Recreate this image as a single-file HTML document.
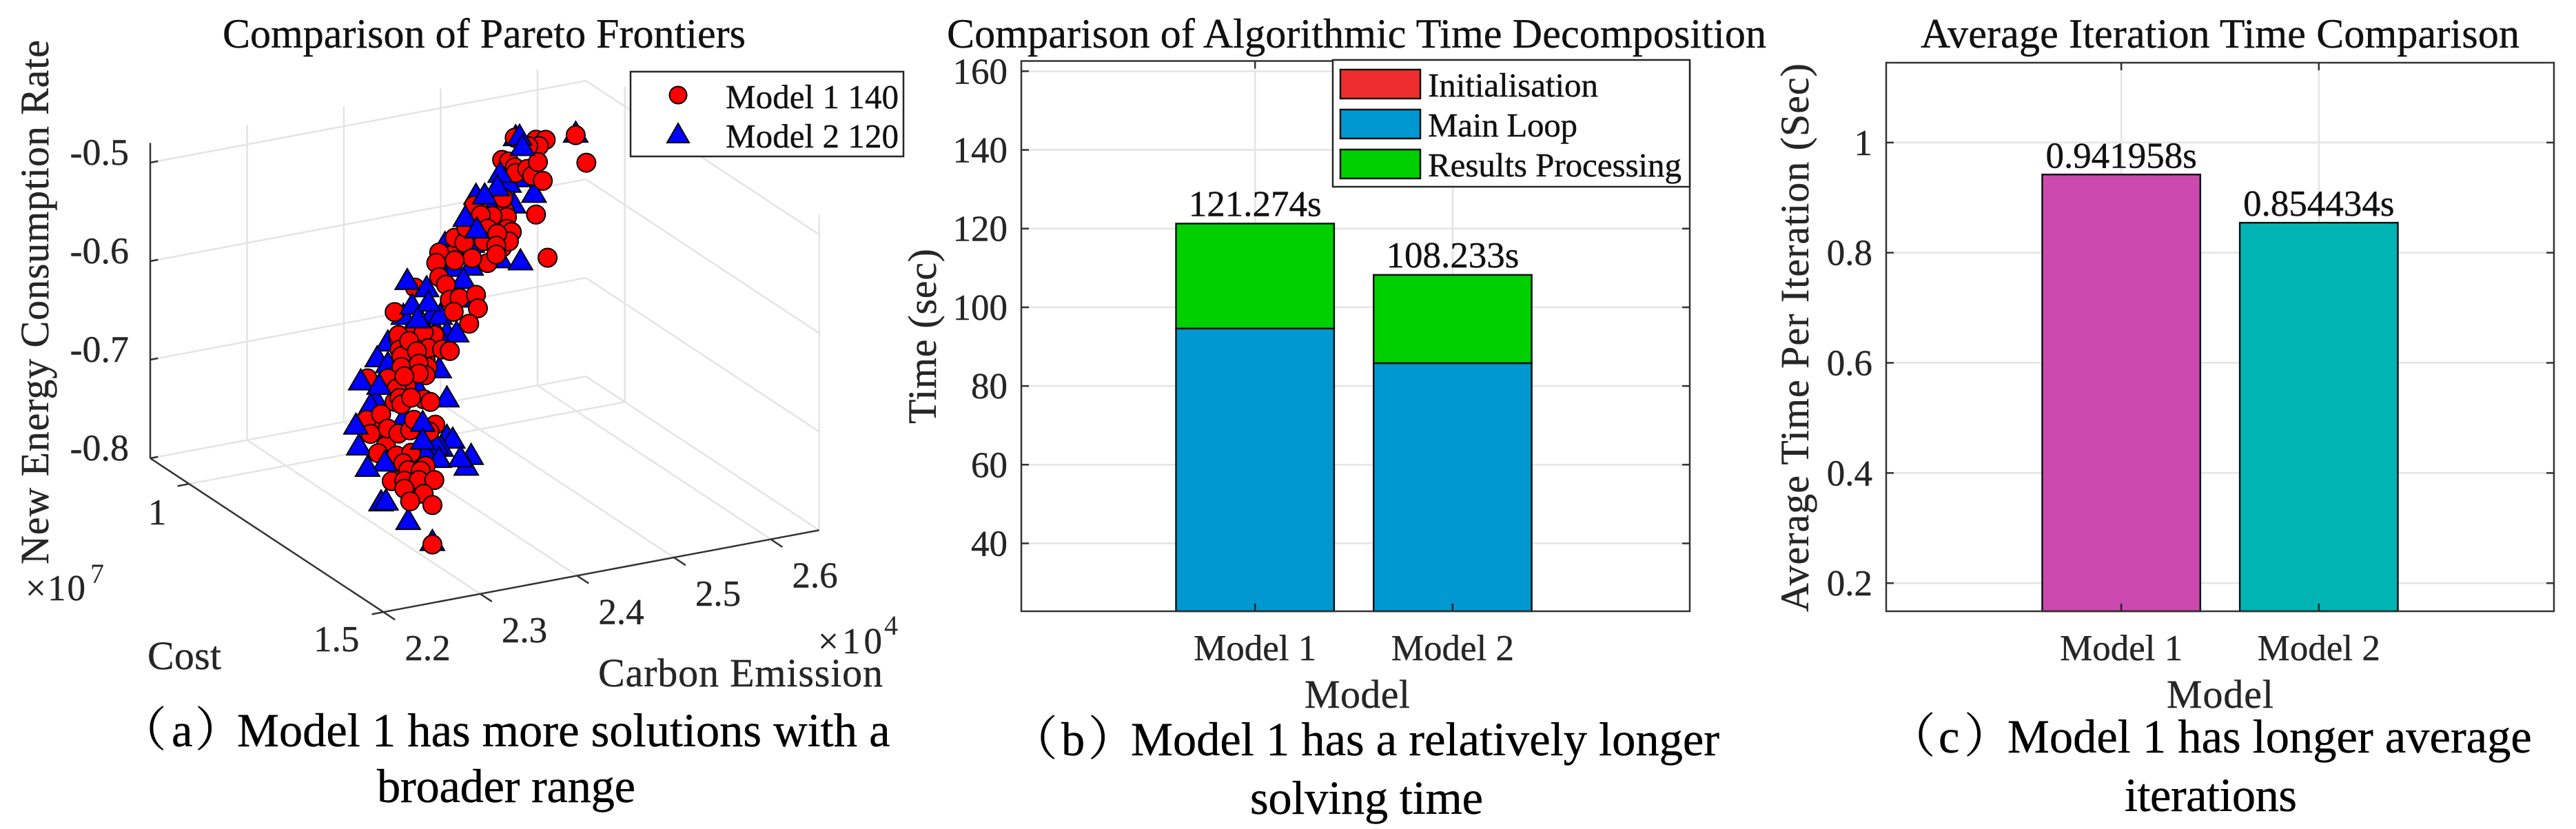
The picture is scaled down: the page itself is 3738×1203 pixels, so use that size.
<!DOCTYPE html>
<html lang="en">
<head>
<meta charset="utf-8">
<title>Model comparison figure</title>
<style>
  html,body{margin:0;padding:0;background:#fff;}
  svg{display:block;}
  text{font-family:"Liberation Serif","Noto Serif CJK SC",serif;stroke-width:.4;}
  .title{font-size:60px;fill:#111;stroke:#111;}
  .label{font-size:58px;fill:#262626;stroke:#262626;}
  .tick{font-size:53px;fill:#262626;stroke:#262626;}
  .legend{font-size:49px;fill:#111;stroke:#111;}
  .value{font-size:53px;fill:#111;stroke:#111;}
  .caption{font-size:68.5px;fill:#000;stroke:#000;}
</style>
</head>
<body>
<svg id="fig" xmlns="http://www.w3.org/2000/svg" width="3738" height="1203" viewBox="0 0 3738 1203">
  <rect x="0" y="0" width="3738" height="1203" fill="#fff"/>

  <g id="panelA">
    <g id="a-grid"></g>
    <g id="a-axes"></g>
    <g id="a-marks"></g>
    <g id="a-ticks"></g>
    <text class="title" x="323" y="69" textLength="759">Comparison of Pareto Frontiers</text>
    <text class="label" x="70" y="819" textLength="761" transform="rotate(-90 70 819)">New Energy Consumption Rate</text>
    <text class="label" x="214" y="971" textLength="107">Cost</text>
    <text class="label" x="868" y="996" textLength="413">Carbon Emission</text>
    <text class="tick" x="37" y="871" textLength="87">×10</text>
    <text style="font-size:40px;fill:#262626" x="131" y="846">7</text>
    <text class="tick" x="1187" y="948" textLength="93">×10</text>
    <text style="font-size:40px;fill:#262626" x="1283" y="921">4</text>
    <g>
      <rect x="915" y="104" width="396" height="123" fill="#fff" stroke="#262626" stroke-width="2.5"/>
      <circle cx="984" cy="138" r="12.5" fill="#f00" stroke="#000" stroke-width="2"/>
      <polygon points="984,179 1000,207 968,207" fill="#00f" stroke="#000" stroke-width="2"/>
      <text class="legend" x="1053" y="157" textLength="251">Model 1 140</text>
      <text class="legend" x="1053" y="214" textLength="251">Model 2 120</text>
    </g>
    <text class="caption" y="1083"><tspan x="173">（</tspan><tspan x="249">a</tspan><tspan x="283">）</tspan><tspan x="344">Model 1 has more solutions with a</tspan></text>
    <text class="caption" x="547" y="1164" textLength="375">broader range</text>
  </g>

  <g id="panelB">
    <g id="b-plot"></g>
    <text class="title" x="1374" y="69" textLength="1189">Comparison of Algorithmic Time Decomposition</text>
    <text class="label" x="1358" y="615" textLength="254" transform="rotate(-90 1358 615)">Time (sec)</text>
    <text class="label" x="1893" y="1027" textLength="153">Model</text>
    <g>
      <rect x="1934" y="87" width="518" height="184" fill="#fff" stroke="#262626" stroke-width="2.5"/>
      <rect x="1945" y="101" width="116" height="42" fill="#ee2e2e" stroke="#111" stroke-width="2.5"/>
      <rect x="1945" y="159" width="116" height="42" fill="#0098d0" stroke="#111" stroke-width="2.5"/>
      <rect x="1945" y="217" width="116" height="42" fill="#00d000" stroke="#111" stroke-width="2.5"/>
      <text class="legend" x="2072" y="140" textLength="247">Initialisation</text>
      <text class="legend" x="2072" y="198" textLength="217">Main Loop</text>
      <text class="legend" x="2072" y="256" textLength="368">Results Processing</text>
    </g>
    <text class="caption" y="1096"><tspan x="1466">（</tspan><tspan x="1540">b</tspan><tspan x="1579">）</tspan><tspan x="1641">Model 1 has a relatively longer</tspan></text>
    <text class="caption" x="1814" y="1181" textLength="338">solving time</text>
  </g>

  <g id="panelC">
    <g id="c-plot"></g>
    <text class="title" x="2787" y="69" textLength="869">Average Iteration Time Comparison</text>
    <text class="label" x="2624" y="888" textLength="796" transform="rotate(-90 2624 888)">Average Time Per Iteration (Sec)</text>
    <text class="label" x="3144" y="1027" textLength="155">Model</text>
    <text class="caption" y="1092"><tspan x="2740">（</tspan><tspan x="2813">c</tspan><tspan x="2850">）</tspan><tspan x="2913">Model 1 has longer average</tspan></text>
    <text class="caption" x="3083" y="1177" textLength="250">iterations</text>
  </g>
</svg>

<script>
/* ---------- Panel (a): data (cost depth is not
   recoverable from one projection, so it is a nominal front-to-back value) ---------- */
const carbonTicks = [2.2, 2.3, 2.4, 2.5, 2.6];
const costTicks = [1, 1.5];
const costTickLabels = ['1', '1.5'];
const rateTicks = [-0.8, -0.7, -0.6, -0.5];
const rateTickLabels = ['-0.8', '-0.7', '-0.6', '-0.5'];

const model2Carbon = [
  2.375,2.357,2.369,
  2.519,2.457,2.464,2.450,2.476,2.455,2.433,2.416,2.384,2.394,
  2.412,2.389,2.441,2.462,2.394,2.411,2.403,2.414,2.341,2.371,
  2.379,2.386,2.396,2.380,2.325,2.314,2.325,2.378,2.352,2.386,
  2.312,2.307,2.341,2.295,2.386,2.392,2.380,2.375,2.364,2.411,
  2.406,2.378,2.318,2.323,2.346,2.371,
  2.457,2.460,2.437,2.434,2.421,2.401,2.413,2.361,2.341,2.346,
  2.363,2.352,2.293,2.312,2.288,2.357,2.357,2.318,2.300,2.396
];
const model2Rate = [
  -0.627,-0.684,-0.742,
  -0.453,-0.445,-0.488,-0.491,-0.506,-0.513,-0.509,-0.497,-0.540,-0.544,
  -0.545,-0.558,-0.566,-0.572,-0.566,-0.568,-0.580,-0.601,-0.605,-0.609,
  -0.612,-0.631,-0.633,-0.637,-0.629,-0.643,-0.651,-0.666,-0.655,-0.697,
  -0.684,-0.690,-0.710,-0.729,-0.736,-0.740,-0.746,-0.743,-0.749,-0.760,
  -0.770,-0.757,-0.790,-0.790,-0.814,-0.840,
  -0.442,-0.453,-0.476,-0.489,-0.495,-0.514,-0.528,-0.578,-0.567,-0.593,
  -0.593,-0.608,-0.660,-0.668,-0.704,-0.714,-0.732,-0.747,-0.749,-0.757
];
const model2Cost = [
  1.2,1.2,1.2,
  1.2,1.2,1.2,1.2,1.2,1.2,1.2,1.2,1.2,1.2,
  1.2,1.2,1.2,1.2,1.2,1.2,1.2,1.2,1.2,1.2,
  1.2,1.2,1.2,1.2,1.2,1.2,1.2,1.2,1.2,1.2,
  1.2,1.2,1.2,1.2,1.2,1.2,1.2,1.2,1.2,1.2,
  1.2,1.2,1.2,1.2,1.2,1.2,
  1.21,1.21,1.21,1.21,1.21,1.21,1.21,1.21,1.21,1.21,
  1.21,1.21,1.21,1.21,1.21,1.21,1.21,1.21,1.21,1.21
];

const model1Carbon = [
  2.352,2.373,2.346,2.364,2.349,2.366,2.344,2.332,2.314,2.361,
  2.323,2.337,2.352,2.357,2.435,2.443,2.446,2.392,
  2.519,2.530,2.478,2.490,2.456,2.478,2.488,2.481,2.470,2.443,
  2.450,2.456,2.457,2.469,2.474,2.480,2.485,2.418,2.414,2.444,
  2.448,2.433,2.421,2.428,2.448,2.453,2.450,2.424,2.438,2.437,
  2.394,2.404,2.406,2.378,2.375,2.378,2.385,2.389,2.399,2.416,
  2.418,2.353,2.332,2.428,2.412,2.394,2.437,2.393,2.409,2.336,
  2.336,2.362,2.367,2.337,2.339,2.347,2.355,2.381,2.389,2.339,
  2.357,2.364,2.357,2.304,2.325,2.334,2.342,2.337,2.339,2.362,
  2.369,2.349,2.303,2.318,2.325,2.336,2.348,2.307,2.315,2.334,
  2.349,2.374,2.368,2.352,2.341,2.346,2.364,2.359,2.329,2.342,
  2.357,2.373,2.342,2.362,2.348,2.371,2.371
];
const model1Rate = [
  -0.620,-0.629,-0.647,-0.652,-0.660,-0.660,-0.675,-0.689,-0.713,-0.725,
  -0.732,-0.759,-0.767,-0.787,-0.529,-0.553,-0.517,-0.551,
  -0.453,-0.483,-0.526,-0.572,-0.444,-0.450,-0.452,-0.457,-0.455,-0.464,
  -0.467,-0.474,-0.480,-0.478,-0.486,-0.473,-0.493,-0.507,-0.505,-0.503,
  -0.523,-0.519,-0.516,-0.531,-0.535,-0.539,-0.548,-0.543,-0.538,-0.550,
  -0.534,-0.541,-0.526,-0.546,-0.556,-0.571,-0.580,-0.596,-0.596,-0.596,
  -0.610,-0.577,-0.598,-0.566,-0.558,-0.557,-0.559,-0.609,-0.624,-0.626,
  -0.622,-0.624,-0.641,-0.637,-0.644,-0.630,-0.642,-0.645,-0.648,-0.655,
  -0.655,-0.668,-0.665,-0.660,-0.664,-0.676,-0.665,-0.686,-0.693,-0.692,
  -0.696,-0.688,-0.702,-0.699,-0.715,-0.722,-0.721,-0.717,-0.738,-0.744,
  -0.744,-0.720,-0.726,-0.711,-0.753,-0.761,-0.760,-0.764,-0.769,-0.771,
  -0.773,-0.776,-0.779,-0.788,-0.793,-0.801,-0.841
];
const model1Cost = [
  1.2,1.2,1.2,1.2,1.2,1.2,1.2,1.2,1.2,1.2,
  1.2,1.2,1.2,1.2,1.2,1.2,1.2,1.2,
  1.2,1.2,1.2,1.2,1.2,1.2,1.2,1.2,1.2,1.2,
  1.2,1.2,1.2,1.2,1.2,1.2,1.2,1.2,1.2,1.2,
  1.2,1.2,1.2,1.2,1.2,1.2,1.2,1.2,1.2,1.2,
  1.2,1.2,1.2,1.2,1.2,1.2,1.2,1.2,1.2,1.2,
  1.2,1.2,1.2,1.2,1.2,1.2,1.2,1.2,1.2,1.2,
  1.2,1.2,1.2,1.2,1.2,1.2,1.2,1.2,1.2,1.2,
  1.2,1.2,1.2,1.2,1.2,1.2,1.2,1.2,1.2,1.2,
  1.2,1.2,1.2,1.2,1.2,1.2,1.2,1.2,1.2,1.2,
  1.2,1.2,1.2,1.2,1.2,1.2,1.2,1.2,1.2,1.2,
  1.2,1.2,1.2,1.2,1.2,1.2,1.2
];

/* ---------- Panel (b) ---------- */
const timeCategories = ['Model 1', 'Model 2'];
const initTime = [0.3, 0.4];
const mainLoopTime = [94.3, 85.4];
const resultsTime = [26.674, 22.433];
const timeTotals = ['121.274s', '108.233s'];
const timeTicks = [40, 60, 80, 100, 120, 140, 160];

/* ---------- Panel (c) ---------- */
const iterCategories = ['Model 1', 'Model 2'];
const iterValues = [0.941958, 0.854434];
const iterLabels = ['0.941958s', '0.854434s'];
const iterTicks = [0.2, 0.4, 0.6, 0.8, 1];
const iterTickLabels = ['0.2', '0.4', '0.6', '0.8', '1'];

const NS = 'http://www.w3.org/2000/svg';
const GRID = '#e4e4e4', AXIS = '#333333';

function make(parent, tag, attrs, text) {
  const node = document.createElementNS(NS, tag);
  for (const k in attrs) node.setAttribute(k, attrs[k]);
  if (text !== undefined) node.textContent = text;
  parent.appendChild(node);
  return node;
}

/* ----- 3D axis functions ----- */
const carbonMin = 2.2, carbonMax = 2.65, costMin = 0.9, costMax = 1.5, rateMin = -0.8, rateMax = -0.48;
function projX(carbon, cost) { return 218 + (carbon - carbonMin) * 1405 + (cost - costMin) * 564; }
function projY(carbon, cost, rate) { return 665 - (carbon - carbonMin) * 264 + (cost - costMin) * 372 - (rate - rateMin) * 1430; }

function line3d(parent, a, b, color, width) {
  return make(parent, 'line', {
    x1: projX(a[0], a[1]), y1: projY(a[0], a[1], a[2]),
    x2: projX(b[0], b[1]), y2: projY(b[0], b[1], b[2]),
    stroke: color, 'stroke-width': width
  });
}

const aGrid = document.getElementById('a-grid');
const aAxes = document.getElementById('a-axes');
const aMarks = document.getElementById('a-marks');
const aTicks = document.getElementById('a-ticks');

carbonTicks.forEach(function (v) {
  if (v > carbonMin) {
    const el = line3d(aGrid, [v, costMin, rateMin], [v, costMin, rateMax], GRID, 2.5);
    
    
  }
  const fl = line3d(aGrid, [v, costMin, rateMin], [v, costMax, rateMin], GRID, 2.5);
  
  
  const tk = line3d(aAxes, [v, costMax, rateMin], [v, costMax + 0.03, rateMin], AXIS, 2.5);
  
  
  const lb = make(aTicks, 'text', { class: 'tick', x: projX(v, costMax) + 31, y: projY(v, costMax, rateMin) + 70 }, v.toFixed(1));
  
  
});

costTicks.forEach(function (v, i) {
  const wall = line3d(aGrid, [carbonMax, v, rateMin], [carbonMax, v, rateMax], GRID, 2.5);
  
  
  if (v < costMax) {
    const fl = line3d(aGrid, [carbonMin, v, rateMin], [carbonMax, v, rateMin], GRID, 2.5);
    
    
  }
  const tk = line3d(aAxes, [carbonMin, v, rateMin], [carbonMin - 0.012, v, rateMin], AXIS, 2.5);
  
  
  const lb = make(aTicks, 'text', { class: 'tick', 'text-anchor': 'end', x: projX(carbonMin, v) - (i === 0 ? 33 : 35), y: projY(carbonMin, v, rateMin) + (i === 0 ? 59 : 57) }, costTickLabels[i]);
  
  
});

rateTicks.forEach(function (v, i) {
  const back = line3d(aGrid, [carbonMin, costMin, v], [carbonMax, costMin, v], GRID, 2.5);
  
  
  const side = line3d(aGrid, [carbonMax, costMin, v], [carbonMax, costMax, v], GRID, 2.5);
  
  
  const tk = line3d(aAxes, [carbonMin, costMin, v], [carbonMin + 0.008, costMin, v], AXIS, 2.5);
  
  
  const lb = make(aTicks, 'text', { class: 'tick', style: 'font-size:54px', 'text-anchor': 'end', x: 187, y: projY(carbonMin, costMin, v) + 3 }, rateTickLabels[i]);
  
  
});

const axisRate = line3d(aAxes, [carbonMin, costMin, rateMin], [carbonMin, costMin, rateMax], AXIS, 2.5);


const axisCost = line3d(aAxes, [carbonMin, costMin, rateMin], [carbonMin, costMax, rateMin], AXIS, 2.5);


const axisCarbon = line3d(aAxes, [carbonMin, costMax, rateMin], [carbonMax, costMax, rateMin], AXIS, 2.5);



/* painter's order: nearer (higher cost) points are drawn last */
const scatterOrder = [];
model2Carbon.forEach(function (_, i) { scatterOrder.push({ series: 2, i: i, depth: model2Cost[i] }); });
model1Carbon.forEach(function (_, i) { scatterOrder.push({ series: 1, i: i, depth: model1Cost[i] }); });
scatterOrder.sort(function (a, b) { return a.depth - b.depth; });

scatterOrder.forEach(function (p) {
  if (p.series === 1) {
    const cx = projX(model1Carbon[p.i], model1Cost[p.i]);
    const cy = projY(model1Carbon[p.i], model1Cost[p.i], model1Rate[p.i]);
    const dot = make(aMarks, 'circle', { cx: cx, cy: cy, r: 13.5, fill: '#ff0000', stroke: '#000', 'stroke-width': 2 });
    
    
  } else {
    const tx = projX(model2Carbon[p.i], model2Cost[p.i]);
    const ty = projY(model2Carbon[p.i], model2Cost[p.i], model2Rate[p.i]);
    const tri = make(aMarks, 'polygon', {
      points: tx + ',' + (ty - 20) + ' ' + (tx + 17.5) + ',' + (ty + 10) + ' ' + (tx - 17.5) + ',' + (ty + 10),
      fill: '#0000ff', stroke: '#000', 'stroke-width': 2
    });
    
    
  }
});

/* ----- 2D panels ----- */
function makeFrame(parent, box, xScale, yScale, yTicks, yLabels, cats) {
  yTicks.forEach(function (v, i) {
    const y = yScale(v);
    const g = make(parent, 'line', { x1: box.l, x2: box.r, y1: y, y2: y, stroke: GRID, 'stroke-width': 2.5 });
    
    
    const t1 = make(parent, 'line', { x1: box.l, x2: box.l + 11, y1: y, y2: y, stroke: AXIS, 'stroke-width': 2.5 });
    
    
    const t2 = make(parent, 'line', { x1: box.r - 11, x2: box.r, y1: y, y2: y, stroke: AXIS, 'stroke-width': 2.5 });
    
    
    const lb = make(parent, 'text', { class: 'tick', 'text-anchor': 'end', x: box.l - 20, y: y + 18 }, yLabels[i]);
    
    
  });
  cats.forEach(function (c, i) {
    const x = xScale(i + 1);
    const g = make(parent, 'line', { x1: x, x2: x, y1: box.t, y2: box.b, stroke: GRID, 'stroke-width': 2.5 });
    
    
    const t1 = make(parent, 'line', { x1: x, x2: x, y1: box.t, y2: box.t + 11, stroke: AXIS, 'stroke-width': 2.5 });
    
    
    const lb = make(parent, 'text', { class: 'tick', 'text-anchor': 'middle', x: x, y: 958 }, c);
    
    
  });
}

function makeBox(parent, box) {
  const f = make(parent, 'rect', { x: box.l, y: box.t, width: box.r - box.l, height: box.b - box.t, fill: 'none', stroke: AXIS, 'stroke-width': 2.5 });
  
  
}

function makeBottomTicks(parent, box, xScale, cats) {
  cats.forEach(function (c, i) {
    const x = xScale(i + 1);
    const t = make(parent, 'line', { x1: x, x2: x, y1: box.b - 11, y2: box.b, stroke: '#222', 'stroke-width': 2.5 });
    
    
  });
}

/* panel b */
const bBox = { l: 1482, r: 2452, t: 88.5, b: 887 };
const bXMin = -0.183, bXMax = 3.2, bYMin = 22.75, bYMax = 162.6;
function bX(v) { return bBox.l + (v - bXMin) / (bXMax - bXMin) * (bBox.r - bBox.l); }
function bY(v) { return bBox.b - (v - bYMin) / (bYMax - bYMin) * (bBox.b - bBox.t); }
const bPlot = document.getElementById('b-plot');
makeFrame(bPlot, bBox, bX, bY, timeTicks, timeTicks.map(String), timeCategories);

function stackRect(parent, cat, from, to, color, name) {
  const w = bX(cat + 0.4) - bX(cat - 0.4);
  const bottom = Math.max(from, bYMin);
  const top = Math.max(to, bYMin);
  const r = make(parent, 'rect', { x: bX(cat - 0.4), y: bY(top), width: w, height: bY(bottom) - bY(top), fill: color, stroke: '#111', 'stroke-width': 2.5 });
  
  
}
timeCategories.forEach(function (c, i) {
  const cat = i + 1;
  const a = initTime[i], b = a + mainLoopTime[i], d = b + resultsTime[i];
  stackRect(bPlot, cat, 0, a, '#ee2e2e', 'bar-initialisation');
  stackRect(bPlot, cat, a, b, '#0098d0', 'bar-main-loop');
  stackRect(bPlot, cat, b, d, '#00d000', 'bar-results-processing');
  const lb = make(bPlot, 'text', { class: 'value', 'text-anchor': 'middle', x: bX(cat), y: bY(d) - 11 }, timeTotals[i]);
  
  
});
makeBottomTicks(bPlot, bBox, bX, timeCategories);
makeBox(bPlot, bBox);

/* panel c */
const cBox = { l: 2737, r: 3706, t: 91, b: 887 };
const cXMin = -0.19, cXMax = 3.19, cYMin = 0.149, cYMax = 1.145;
function cX(v) { return cBox.l + (v - cXMin) / (cXMax - cXMin) * (cBox.r - cBox.l); }
function cY(v) { return cBox.b - (v - cYMin) / (cYMax - cYMin) * (cBox.b - cBox.t); }
const cPlot = document.getElementById('c-plot');
makeFrame(cPlot, cBox, cX, cY, iterTicks, iterTickLabels, iterCategories);
const iterColors = ['#cc4ab0', '#00b4b4'];
iterCategories.forEach(function (c, i) {
  const cat = i + 1;
  const r = make(cPlot, 'rect', { x: cX(cat - 0.4), y: cY(iterValues[i]), width: cX(cat + 0.4) - cX(cat - 0.4), height: cBox.b - cY(iterValues[i]), fill: iterColors[i], stroke: '#111', 'stroke-width': 2.5 });
  
  
  const lb = make(cPlot, 'text', { class: 'value', 'text-anchor': 'middle', x: cX(cat), y: cY(iterValues[i]) - 10 }, iterLabels[i]);
  
  
});
makeBottomTicks(cPlot, cBox, cX, iterCategories);
makeBox(cPlot, cBox);
</script>
</body>
</html>
